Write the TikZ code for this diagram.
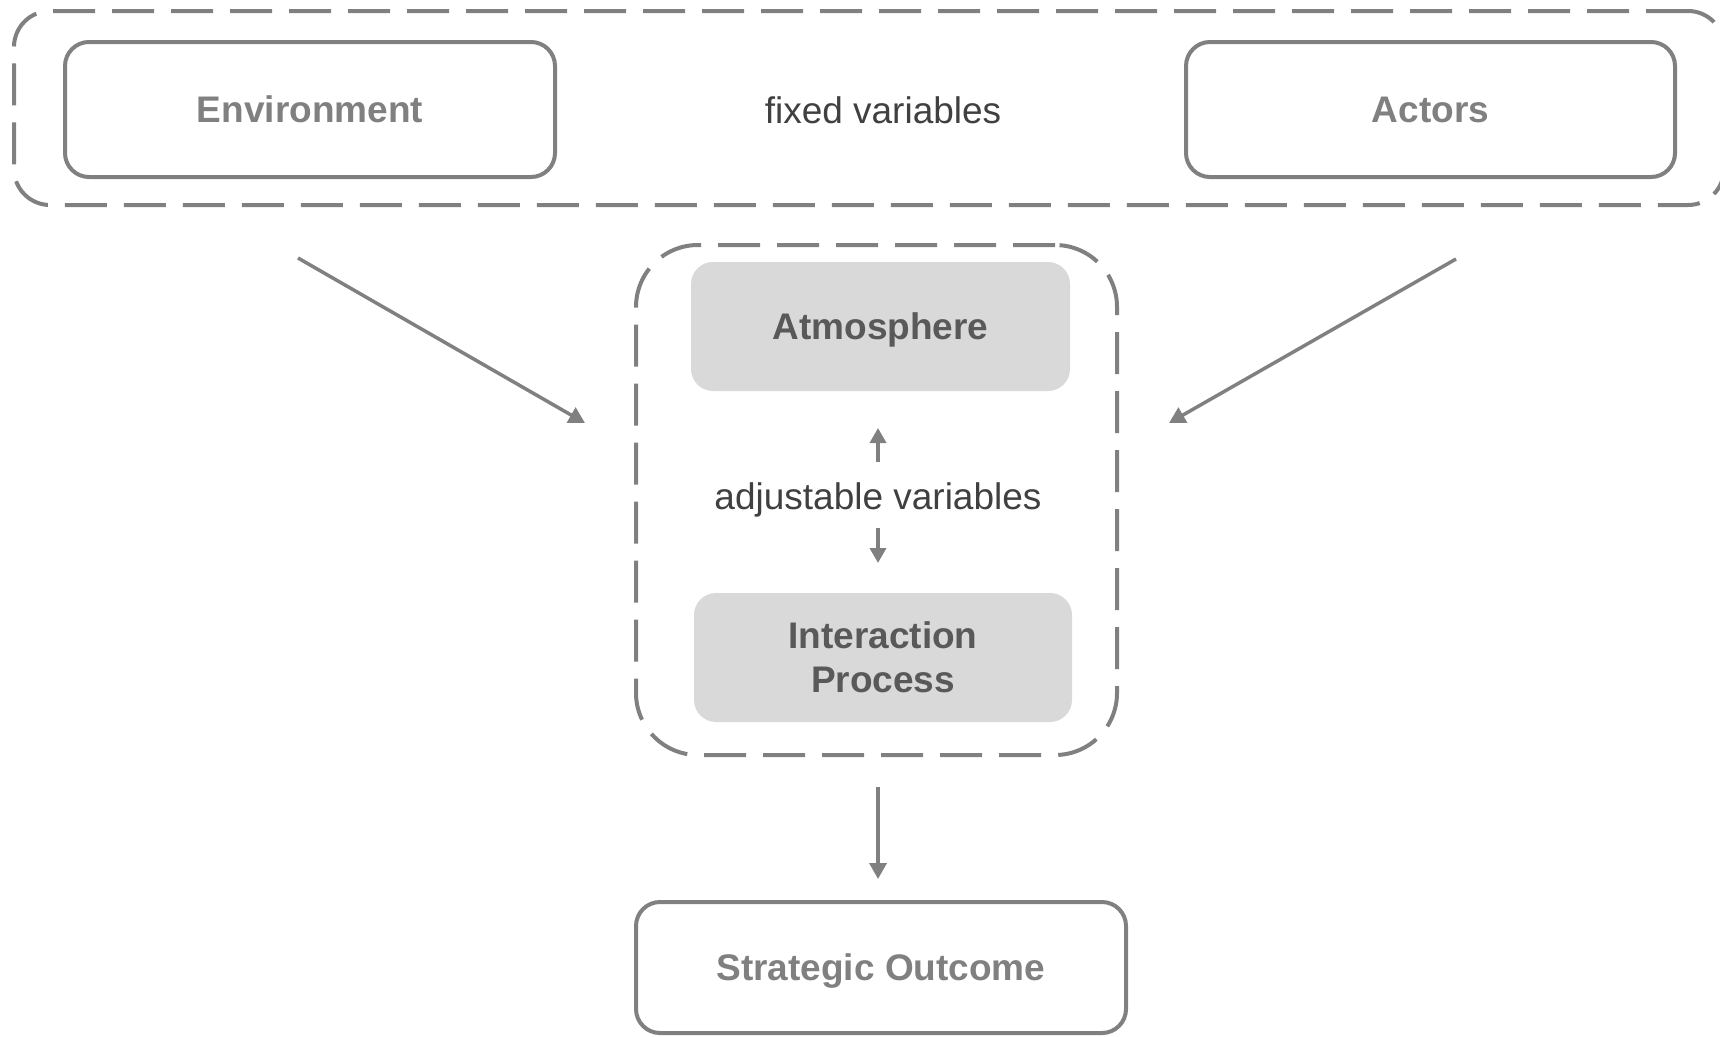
\documentclass[tikz,border=0pt]{standalone}
\usepackage{fontspec}
\setmainfont{Liberation Sans}
\usetikzlibrary{arrows.meta}
\definecolor{linegray}{HTML}{808080}
\definecolor{boxfill}{HTML}{D9D9D9}
\definecolor{darktext}{HTML}{595959}
\definecolor{plaintext}{HTML}{404040}
\begin{document}
\begin{tikzpicture}[x=1pt,y=-1pt,
  whitebox/.style={draw=linegray,line width=4pt,rounded corners=24pt,fill=white,
    text=linegray,font=\fontsize{37}{44}\selectfont\bfseries,inner sep=0pt,text depth=0pt},
  graybox/.style={fill=boxfill,rounded corners=22pt,text=darktext,
    font=\fontsize{37}{44}\selectfont\bfseries,align=center,inner sep=0pt,text depth=0pt},
  dashbox/.style={draw=linegray,line width=4pt,dash pattern=on 42pt off 17pt,inner sep=0pt},
  label/.style={text=plaintext,font=\fontsize{37}{44}\selectfont,inner sep=0pt,text depth=0pt},
  arr/.style={draw=linegray,line width=3.5pt,-{Triangle[length=16pt,width=17pt]}},
  smallarr/.style={draw=linegray,line width=3.5pt,-{Triangle[length=15pt,width=16pt]}}
]
\useasboundingbox (0,0) rectangle (1720,1036);
% outer dashed group
\node[dashbox,rounded corners=36pt,minimum width=1710pt,minimum height=194pt] (outer) at (869,108) {};
\node[whitebox,minimum width=490pt,minimum height=135pt] (env) at (310,109.5) {Environment};
\node[whitebox,minimum width=489pt,minimum height=135pt] (act) at (1430.5,109.5) {Actors};
\node[label] (fixed) at (883,110) {fixed variables};
% middle dashed group
\node[dashbox,rounded corners=62pt,minimum width=481pt,minimum height=510pt] (mid) at (876.5,500) {};
\node[graybox,minimum width=379pt,minimum height=129pt] (atm) at (880.5,326.5) {Atmosphere};
\node[graybox,minimum width=378pt,minimum height=129pt] (inter) at (883,657.5) {Interaction\\Process};
\node[label] (adj) at (878,496) {adjustable variables};
% outcome
\node[whitebox,minimum width=490pt,minimum height=131pt] (out) at (881,967.5) {Strategic Outcome};
% connector coordinates
\coordinate (l1) at (298,258);
\coordinate (l2) at (585,423);
\coordinate (r1) at (1456,259);
\coordinate (r2) at (1169,423);
\coordinate (u1) at (878,462);
\coordinate (u2) at (878,428);
\coordinate (d1) at (878,528);
\coordinate (d2) at (878,563);
\coordinate (o1) at (878,787);
\coordinate (o2) at (878,879);
\draw[arr] (l1) -- (l2);
\draw[arr] (r1) -- (r2);
\draw[smallarr] (u1) -- (u2);
\draw[smallarr] (d1) -- (d2);
\draw[arr] (o1) -- (o2);
\end{tikzpicture}
\end{document}
